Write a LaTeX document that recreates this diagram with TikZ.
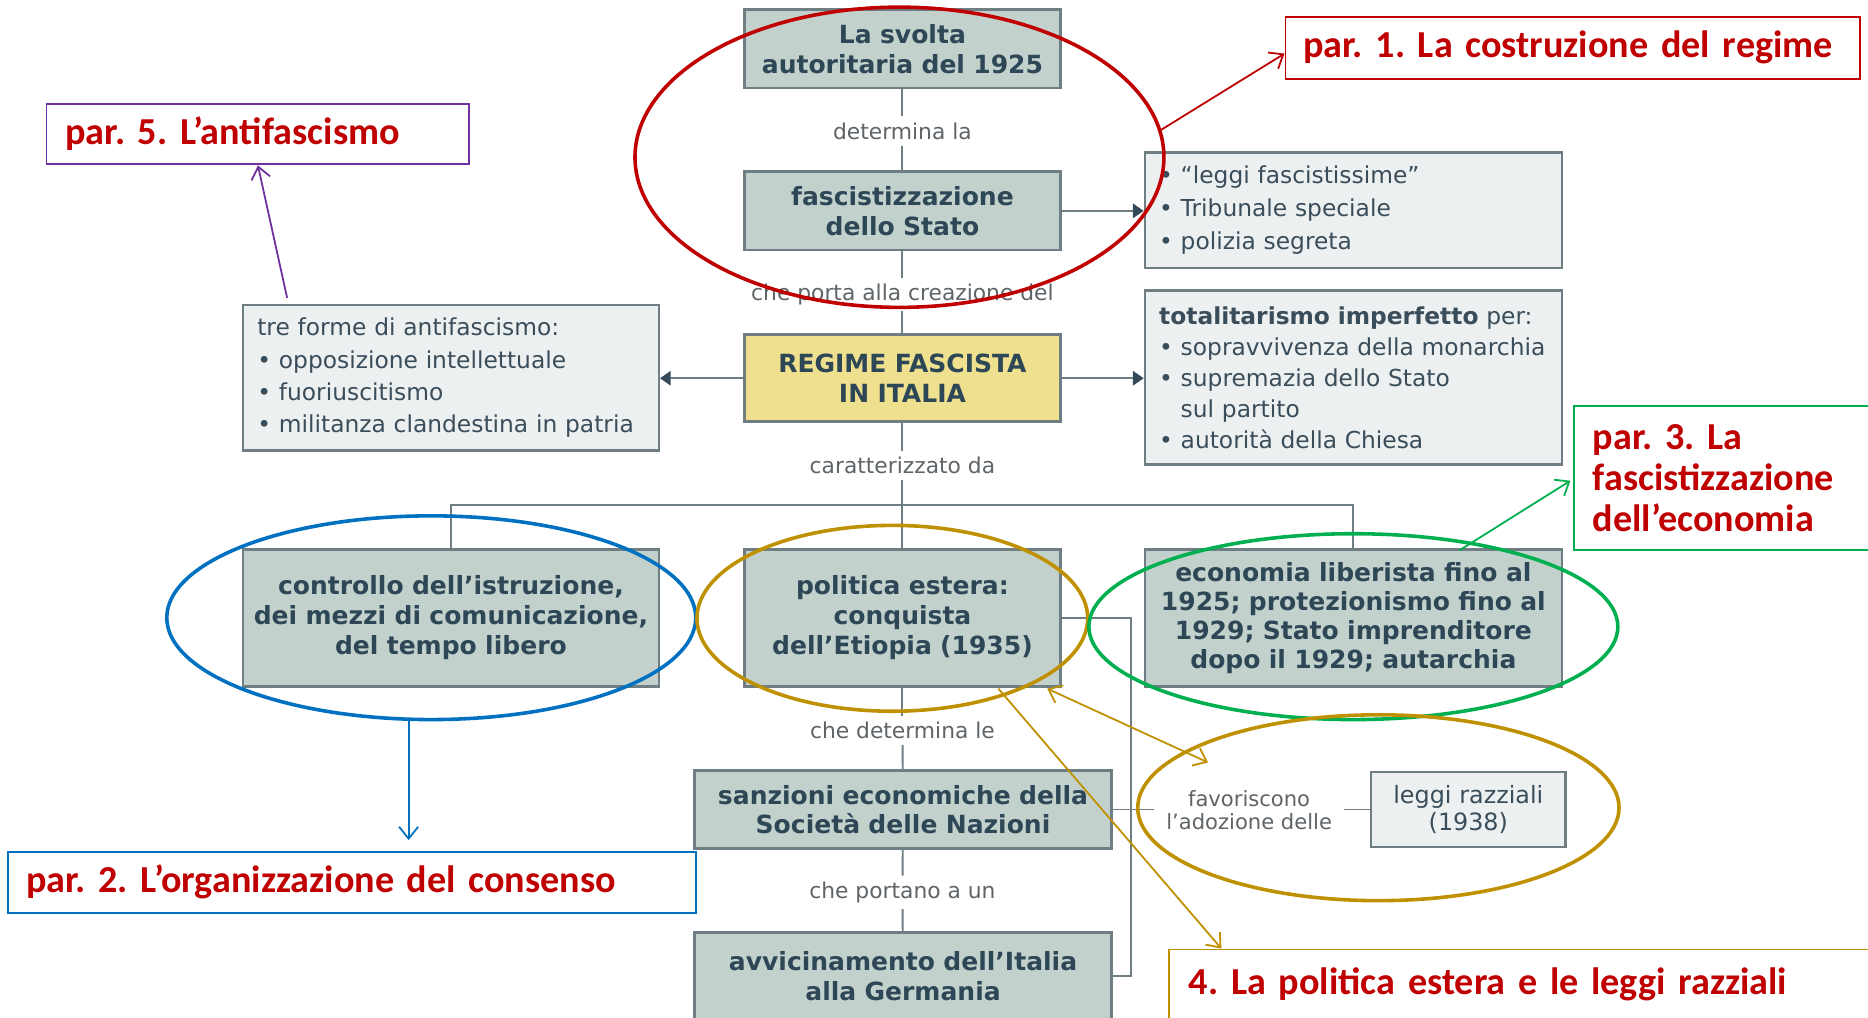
\documentclass[tikz,border=0pt]{standalone}
\usepackage{fontspec}
\setmainfont{DejaVu Sans}
\newfontfamily\annfont[WordSpace=0.9]{Carlito}
\usetikzlibrary{arrows.meta,shapes.geometric,calc}

\definecolor{boxfill}{HTML}{C3D1CD}
\definecolor{boxdraw}{HTML}{6E7E82}
\definecolor{boxtext}{HTML}{2E4757}
\definecolor{lighttext}{HTML}{3A4D5A}
\definecolor{lightfill}{HTML}{EDF0F0}
\definecolor{yellowfill}{HTML}{EEE08E}
\definecolor{lbltext}{HTML}{5E6468}
\definecolor{headcol}{HTML}{34495A}
\definecolor{annred}{HTML}{C00000}
\definecolor{annblue}{HTML}{0070C0}
\definecolor{anngreen}{HTML}{00B050}
\definecolor{anngold}{HTML}{BF9000}
\definecolor{annpurple}{HTML}{7030A0}

\begin{document}
\frenchspacing
\begin{tikzpicture}[x=1pt,y=-1pt,
  darkbox/.style={draw=boxdraw, line width=2.2pt, fill=boxfill, text=boxtext,
    font=\bfseries\fontsize{21}{25}\selectfont, align=center, inner sep=0pt},
  lightbox/.style={draw=boxdraw, line width=2pt, fill=lightfill, text=lighttext,
    font=\fontsize{19.6}{27}\selectfont, align=left, inner sep=0pt},
  lbl/.style={text=lbltext, font=\fontsize{18.3}{20}\selectfont, inner xsep=3pt, inner ysep=5pt},
  conn/.style={draw=boxdraw, line width=1.6pt},
  arr/.style={conn, -{Triangle[length=9pt,width=12pt,color=headcol]}},
  annbox/.style={line width=1.6pt, fill=white, text=annred,
    font=\annfont\bfseries\frenchspacing\fontsize{32}{34.5}\selectfont, align=left, inner sep=0pt},
  annell/.style={ellipse, line width=3pt, inner sep=0pt},
  annarrow/.style={line width=1.5pt, -{Straight Barb[length=10pt,width=16pt,line width=1.5pt]}},
  annarrow2/.style={line width=1.5pt, {Straight Barb[length=10pt,width=16pt,line width=1.5pt]}-{Straight Barb[length=10pt,width=16pt,line width=1.5pt]}}
]
\useasboundingbox (0,0) rectangle (1568,854);
\clip (0,0) rectangle (1568,854);
\fill[white] (0,0) rectangle (1568,854);

% ---------- concept map boxes ----------
\node[darkbox, minimum width=265pt, minimum height=66pt, text width=255pt] (A) at (757.5,41)
  {La svolta\\autoritaria del 1925};
\node[darkbox, minimum width=265pt, minimum height=66pt, text width=255pt] (B) at (757.5,177)
  {fascistizzazione\\dello Stato};
\node[lightbox, minimum width=350pt, minimum height=97pt, text width=326pt, font=\fontsize{19.6}{27.5}\selectfont] (C) at (1136,176.5)
  {• “leggi fascistissime”\\• Tribunale speciale\\• polizia segreta};
\node[darkbox, fill=yellowfill, minimum width=265pt, minimum height=73pt, text width=255pt] (D) at (757.5,317.5)
  {REGIME FASCISTA\\IN ITALIA};
\node[lightbox, minimum width=349pt, minimum height=122pt, text width=325pt] (E) at (378.5,317)
  {tre forme di antifascismo:\\• opposizione intellettuale\\• fuoriuscitismo\\• militanza clandestina in patria};
\node[lightbox, minimum width=350pt, minimum height=146pt, text width=326pt, font=\fontsize{19.6}{26}\selectfont] (F) at (1136,317)
  {\textbf{totalitarismo imperfetto} per:\\• sopravvivenza della monarchia\\• supremazia dello Stato\\\hphantom{• }sul partito\\• autorità della Chiesa};
\node[darkbox, minimum width=349pt, minimum height=115pt, text width=341pt] (G) at (378.5,518.5)
  {controllo dell’istruzione,\\dei mezzi di comunicazione,\\del tempo libero};
\node[darkbox, minimum width=265pt, minimum height=115pt, text width=257pt] (H) at (757.5,518.5)
  {politica estera:\\conquista\\dell’Etiopia (1935)};
\node[darkbox, minimum width=350pt, minimum height=115pt, text width=342pt, font=\bfseries\fontsize{21}{24.4}\selectfont] (I) at (1136,518.5)
  {economia liberista fino al\\1925; protezionismo fino al\\1929; Stato imprenditore\\dopo il 1929; autarchia};
\node[darkbox, minimum width=350pt, minimum height=65pt, text width=342pt, font=\bfseries\fontsize{21}{24}\selectfont] (J) at (758,679.5)
  {sanzioni economiche della\\Società delle Nazioni};
\node[darkbox, minimum width=350pt, minimum height=74pt, text width=342pt] (K) at (758,819.5)
  {avvicinamento dell’Italia\\alla Germania};
\node[lightbox, minimum width=163pt, minimum height=63pt, text width=155pt, align=center, font=\fontsize{20}{22}\selectfont] (L) at (1232.5,679.5)
  {leggi razziali\\(1938)};

% ---------- labels ----------
\node[lbl] (l1) at (757.5,110) {determina la};
\node[lbl] (l2) at (757.5,247) {che porta alla creazione del};
\node[lbl] (l3) at (757.5,391) {caratterizzato da};
\node[lbl] (l4) at (757.5,613) {che determina le};
\node[lbl] (l5) at (757.5,749) {che portano a un};
\node[lbl, align=center, font=\fontsize{17.7}{20}\selectfont, inner xsep=10pt] (fav) at (1048.5,680)
  {favoriscono\\l’adozione delle};

% ---------- connectors ----------
\draw[conn] (A) -- (l1);
\draw[conn] (l1) -- (B);
\draw[conn] (B) -- (l2);
\draw[conn] (l2) -- (D);
\draw[conn] (D) -- (l3);
\draw[conn] (l3) -- (H);
\draw[conn] (G.north) -- ++(0,-36) -| (I.north);
\draw[arr] (B.east) -- (B.east -| C.west);
\draw[arr] (D.east) -- (D.east -| F.west);
\draw[arr] (D.west) -- (D.west -| E.east);
\draw[conn] (H) -- (l4);
\draw[conn] (l4) -- (J);
\draw[conn] (J) -- (l5);
\draw[conn] (l5) -- (K);
\draw[conn] (H.east) -- ++(58,0) |- (K.east);
\draw[conn] (J.east) -- (J.east -| fav.west);
\draw[conn] (fav.east |- L.west) -- (L.west);

% ---------- annotations ----------
\node[annell, draw=annred, minimum width=444pt, minimum height=252pt] (redE) at (755,132) {};
\node[annell, draw=annblue, minimum width=444pt, minimum height=171pt] (blueE) at (362,518.5) {};
\node[annell, draw=anngold, minimum width=328pt, minimum height=156pt] (goldE1) at (749,519) {};
\node[annell, draw=anngreen, minimum width=444pt, minimum height=156pt] (greenE) at (1136,526) {};
\node[annell, draw=anngold, minimum width=404pt, minimum height=156pt] (goldE2) at (1157,678) {};

\node[annbox, draw=annred, minimum width=482pt, minimum height=52pt, text width=452pt] (P1) at (1320,40)
  {par. 1. La costruzione del regime};
\node[annbox, draw=annpurple, minimum width=355pt, minimum height=51pt, text width=323pt] (P5) at (216.5,112.5)
  {par. 5. L’antifascismo};
\node[annbox, draw=anngreen, minimum width=279pt, minimum height=121pt, text width=247pt] (P3) at (1460.5,401.5)
  {par. 3. La\\fascistizzazione\\dell’economia};
\node[annbox, draw=annblue, minimum width=577pt, minimum height=51pt, text width=547pt] (P2) at (295.5,740.5)
  {par. 2. L’organizzazione del consenso};
\node[annbox, draw=anngold, minimum width=619pt, minimum height=58pt, text width=585pt] (P4) at (1290.5,826)
  {4. La politica estera e le leggi razziali};

\coordinate (p5s) at (241,250);
\coordinate (p3s) at (1225,462);
\coordinate (p2s) at (343,604.5);
\coordinate (g1) at (879,578);
\coordinate (g2) at (1014,640);
\coordinate (g3) at (838,578);

\draw[annarrow, annred] (redE.6) -- ($(P1.west)+(0,5)$);
\draw[annarrow, annpurple] (p5s) -- (P5.south);
\draw[annarrow, anngreen] (p3s) -- ($(P3.west)+(-2,2)$);
\draw[annarrow, annblue, shorten >=9pt] (p2s) -- (p2s |- P2.north);
\draw[annarrow2, anngold] (g1) -- (g2);
\draw[annarrow, anngold] (g3) -- ($(P4.north west)+(45,0)$);
\end{tikzpicture}
\end{document}
